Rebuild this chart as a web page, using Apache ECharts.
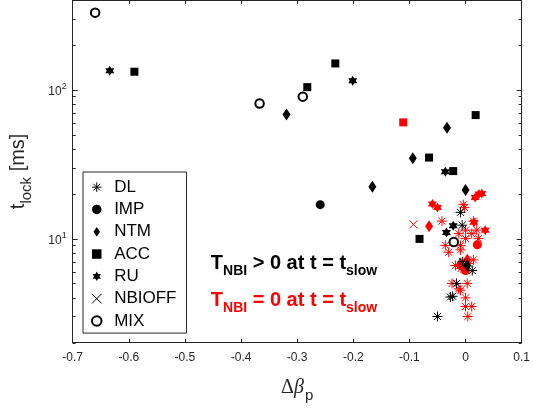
<!DOCTYPE html>
<html>
<head>
<meta charset="utf-8">
<script src="https://cdn.jsdelivr.net/npm/echarts@6/dist/echarts.min.js"></script>
<style>html,body{margin:0;padding:0;background:#fff;}#c{width:533px;height:409px;}</style>
</head>
<body>
<div id="c"></div>
<script>
// ---- data (Δβp, t_lock [ms]) ----
const categories = ['DL','IMP','NTM','ACC','RU','NBIOFF','MIX'];
const xTicks = [-0.7,-0.6,-0.5,-0.4,-0.3,-0.2,-0.1,0,0.1];
const yMajorTicks = [10,100];
const yMinorTicks = [2,3,4,5,6,7,8,9,20,30,40,50,60,70,80,90,200,300,400];

// black: T_NBI > 0 at t = t_slow
const dlBlack  = [[-0.009,15.0],[-0.006,12.3],[-0.005,7.0],[0.012,6.1],[-0.016,5.0],[-0.027,4.05],[-0.023,4.1],[-0.050,3.0]];
const impBlack = [[-0.259,16.9]];
const ntmBlack = [[-0.319,68.1],[-0.166,22.3],[-0.094,34.7],[-0.033,55.5],[0.0,21.2],[0.003,6.6]];
const accBlack = [[-0.590,132],[-0.282,104],[-0.232,150],[-0.065,35],[-0.022,28.4],[0.018,67.5],[-0.082,9.95]];
const ruBlack  = [[-0.634,134],[-0.201,115],[-0.036,28.1],[-0.022,12.2],[-0.034,11.0]];
const nbioffBlack = [];
const mixBlack = [[-0.66,329],[-0.367,80.7],[-0.29,89.8],[-0.021,9.5]];

// red: T_NBI = 0 at t = t_slow
const dlRed = [[-0.004,16.9],[-0.002,16.2],[-0.042,13.1],[0.014,13.1],[0.0,11.4],[-0.012,10.8],[0.011,10.8],[0.020,11.4],
  [0.0,10.0],[0.023,10.0],[-0.036,9.0],[-0.030,8.1],[-0.009,9.0],[-0.009,8.4],[0.014,7.2],[-0.018,6.6],[-0.008,6.3],
  [0.006,6.8],[-0.024,5.0],[0.003,5.0],[-0.012,4.6],[-0.009,4.5],[0.0,4.0],[0.0,3.5],[0.011,3.5],[0.004,3.0]];
const impRed = [[0.021,9.1],[-0.008,6.6],[0.0,6.1]];
const ntmRed = [[-0.065,12.1],[-0.009,6.8],[0.0,6.3],[0.003,7.2]];
const accRed = [[-0.111,60.3]];
const ruRed  = [[-0.059,17.1],[-0.050,16.2],[0.017,18.9],[0.024,19.9],[0.029,20.1],[0.015,12.9],[0.035,11.4]];
const nbioffRed = [[-0.093,12.45]];
const mixRed = [];

// ---- styling ----
const AX = '#262626';
const FONT = 'Liberation Sans, Arial, Helvetica, sans-serif';
const ASTER = 'path://M0,-1L0,1M-1,0L1,0M-0.707,-0.707L0.707,0.707M-0.707,0.707L0.707,-0.707';
const CROSS = 'path://M-1,-1L1,1M-1,1L1,-1';
const HEX = 'path://M0,-1L0.2887,-0.5L0.866,-0.5L0.577,0L0.866,0.5L0.2887,0.5L0,1L-0.2887,0.5L-0.866,0.5L-0.577,0L-0.866,-0.5L-0.2887,-0.5Z';
const DIAM = 'path://M0,-1.45L1,0L0,1.45L-1,0Z';
const SQR = 'path://M-1,-1L1,-1L1,1L-1,1Z';
const sym = {
  DL:     {symbol: ASTER, size: 10, stroke: true},
  IMP:    {symbol: 'circle', size: 9},
  NTM:    {symbol: 'diamond', size: [8,12]},
  ACC:    {symbol: 'rect', size: 8},
  RU:     {symbol: HEX, size: [9,10]},
  NBIOFF: {symbol: CROSS, size: 8, stroke: true},
  MIX:    {symbol: 'emptyCircle', size: 8.5, empty: true}
};
function mk(name, cat, data, color) {
  const s = sym[cat];
  let itemStyle;
  if (s.stroke || s.empty) itemStyle = {color: color, borderColor: color, borderWidth: 1, opacity: 1};
  else itemStyle = {color: color, borderWidth: 0, opacity: 1};
  return {name: name, type: 'scatter', data: data, symbol: s.symbol, symbolSize: s.size,
    itemStyle: itemStyle, silent: true, z: color === '#000' ? 3 : 2};
}
const blackData = {DL: dlBlack, IMP: impBlack, NTM: ntmBlack, ACC: accBlack, RU: ruBlack, NBIOFF: nbioffBlack, MIX: mixBlack};
const redData = {DL: dlRed, IMP: impRed, NTM: ntmRed, ACC: accRed, RU: ruRed, NBIOFF: nbioffRed, MIX: mixRed};
const series = [];
categories.forEach(c => series.push(mk(c + '_red', c, redData[c], '#ff0000')));
categories.forEach(c => series.push(mk(c, c, blackData[c], '#000')));

// log-axis ticks (major and minor) on left and right, drawn through the axes
const tickData = yMajorTicks.map(v => [xTicks[0], v, 1]).concat(yMinorTicks.map(v => [xTicks[0], v, 0]));
series.push({
  type: 'custom', silent: true, clip: false, z: 1, data: tickData,
  renderItem: function (params, api) {
    const v = api.value(1), major = api.value(2);
    const len = major ? 5 : 3;
    const pl = api.coord([xTicks[0], v]);
    const pr = api.coord([xTicks[xTicks.length - 1], v]);
    const st = {stroke: AX, lineWidth: 1};
    return {type: 'group', children: [
      {type: 'line', shape: {x1: pl[0], y1: Math.round(pl[1]) + 0.5, x2: pl[0] + len, y2: Math.round(pl[1]) + 0.5}, style: st},
      {type: 'line', shape: {x1: pr[0] - len, y1: Math.round(pr[1]) + 0.5, x2: pr[0], y2: Math.round(pr[1]) + 0.5}, style: st}
    ]};
  }
});

const legendIcons = {DL: ASTER, IMP: 'circle', NTM: DIAM, ACC: SQR, RU: HEX, NBIOFF: CROSS, MIX: 'emptyCircle'};

const chart = echarts.init(document.getElementById('c'), null, {renderer: 'canvas'});
chart.setOption({
  animation: false,
  backgroundColor: '#fff',
  grid: {left: 72.7, right: 6.3, top: -2, bottom: 66.3},
  xAxis: [{
    type: 'value', min: -0.7, max: 0.1, interval: 0.1,
    axisLine: {show: true, onZero: false, lineStyle: {color: AX, width: 1}},
    axisTick: {show: true, inside: true, length: 4, lineStyle: {color: AX}},
    splitLine: {show: false},
    axisLabel: {color: AX, fontSize: 12, fontFamily: FONT, margin: 9,
      formatter: v => String(Number(v.toFixed(1)))},
    name: '{d|Δ}{b|β}{s|p}', nameLocation: 'middle', nameGap: 35,
    nameTextStyle: {rich: {
      d: {fontSize: 20, fontFamily: 'Liberation Serif, serif', color: AX, verticalAlign: 'bottom', padding: [0,0,6,0]},
      b: {fontSize: 20, fontFamily: 'Liberation Serif, serif', fontStyle: 'italic', color: AX, verticalAlign: 'bottom', padding: [0,1,6,0]},
      s: {fontSize: 15, fontFamily: FONT, color: AX, verticalAlign: 'bottom'}
    }}
  }, {
    type: 'value', position: 'top', min: -0.7, max: 0.1, interval: 0.1,
    axisLine: {show: true, onZero: false, lineStyle: {color: AX, width: 1}},
    axisTick: {show: true, inside: true, length: 4, lineStyle: {color: AX}},
    axisLabel: {show: false}, splitLine: {show: false}
  }],
  yAxis: [{
    type: 'log', logBase: 10, min: 2, max: 400,
    axisLine: {show: true, onZero: false, lineStyle: {color: AX, width: 1}},
    axisTick: {show: false}, splitLine: {show: false}, minorTick: {show: false},
    axisLabel: {color: AX, fontFamily: FONT, margin: 6, showMinLabel: false, showMaxLabel: false,
      formatter: function (v) {
        const e = Math.log10(v);
        if (Math.abs(e - Math.round(e)) < 1e-6 && yMajorTicks.indexOf(Math.round(v)) >= 0) return '{b|10}{e|' + Math.round(e) + '}';
        return '';
      },
      rich: {
        b: {fontSize: 12, fontFamily: FONT, color: AX, verticalAlign: 'bottom'},
        e: {fontSize: 9, fontFamily: FONT, color: AX, verticalAlign: 'bottom', padding: [0,0,7,0]}
      }},
    name: '{t|t}{s|lock}{t| [ms]}', nameLocation: 'middle', nameGap: 38, nameRotate: 90,
    nameTextStyle: {rich: {
      t: {fontSize: 20, fontFamily: FONT, color: AX, verticalAlign: 'bottom', padding: [0,0,6,0]},
      s: {fontSize: 15, fontFamily: FONT, color: AX, verticalAlign: 'bottom'}
    }}
  }, {
    type: 'log', logBase: 10, min: 2, max: 400, position: 'right',
    axisLine: {show: true, onZero: false, lineStyle: {color: AX, width: 1}},
    axisTick: {show: false}, axisLabel: {show: false}, splitLine: {show: false}
  }],
  legend: {
    orient: 'vertical', left: 83, top: 172, padding: [4, 10, 1, 8],
    itemGap: 0, itemWidth: 24.8, itemHeight: 9.5, symbolKeepAspect: true,
    borderColor: AX, borderWidth: 1, backgroundColor: '#fff',
    textStyle: {fontSize: 17, fontFamily: FONT, color: '#000', lineHeight: 22.3},
    selectedMode: false,
    data: categories.map(c => ({name: c, icon: legendIcons[c],
      itemStyle: {color: '#000', borderColor: '#000', opacity: 1, borderWidth: (c === 'DL' || c === 'NBIOFF' || c === 'MIX') ? 1 : 0}}))
  },
  graphic: [{
    type: 'text', x: 294, y: 265.5, z: 10,
    style: {text: '{a|T}{s|NBI}{a| > 0 at t = t}{s|slow}', align: 'center', verticalAlign: 'middle',
      rich: {
        a: {fontSize: 20, fontWeight: 'bold', fontFamily: FONT, fill: '#000', verticalAlign: 'bottom', padding: [0,0,5,0]},
        s: {fontSize: 14, fontWeight: 'bold', fontFamily: FONT, fill: '#000', verticalAlign: 'bottom'}
      }}
  }, {
    type: 'text', x: 294, y: 302.5, z: 10,
    style: {text: '{a|T}{s|NBI}{a| = 0 at t = t}{s|slow}', align: 'center', verticalAlign: 'middle',
      rich: {
        a: {fontSize: 20, fontWeight: 'bold', fontFamily: FONT, fill: '#ff0000', verticalAlign: 'bottom', padding: [0,0,5,0]},
        s: {fontSize: 14, fontWeight: 'bold', fontFamily: FONT, fill: '#ff0000', verticalAlign: 'bottom'}
      }}
  }],
  series: series
});
</script>
</body>
</html>
